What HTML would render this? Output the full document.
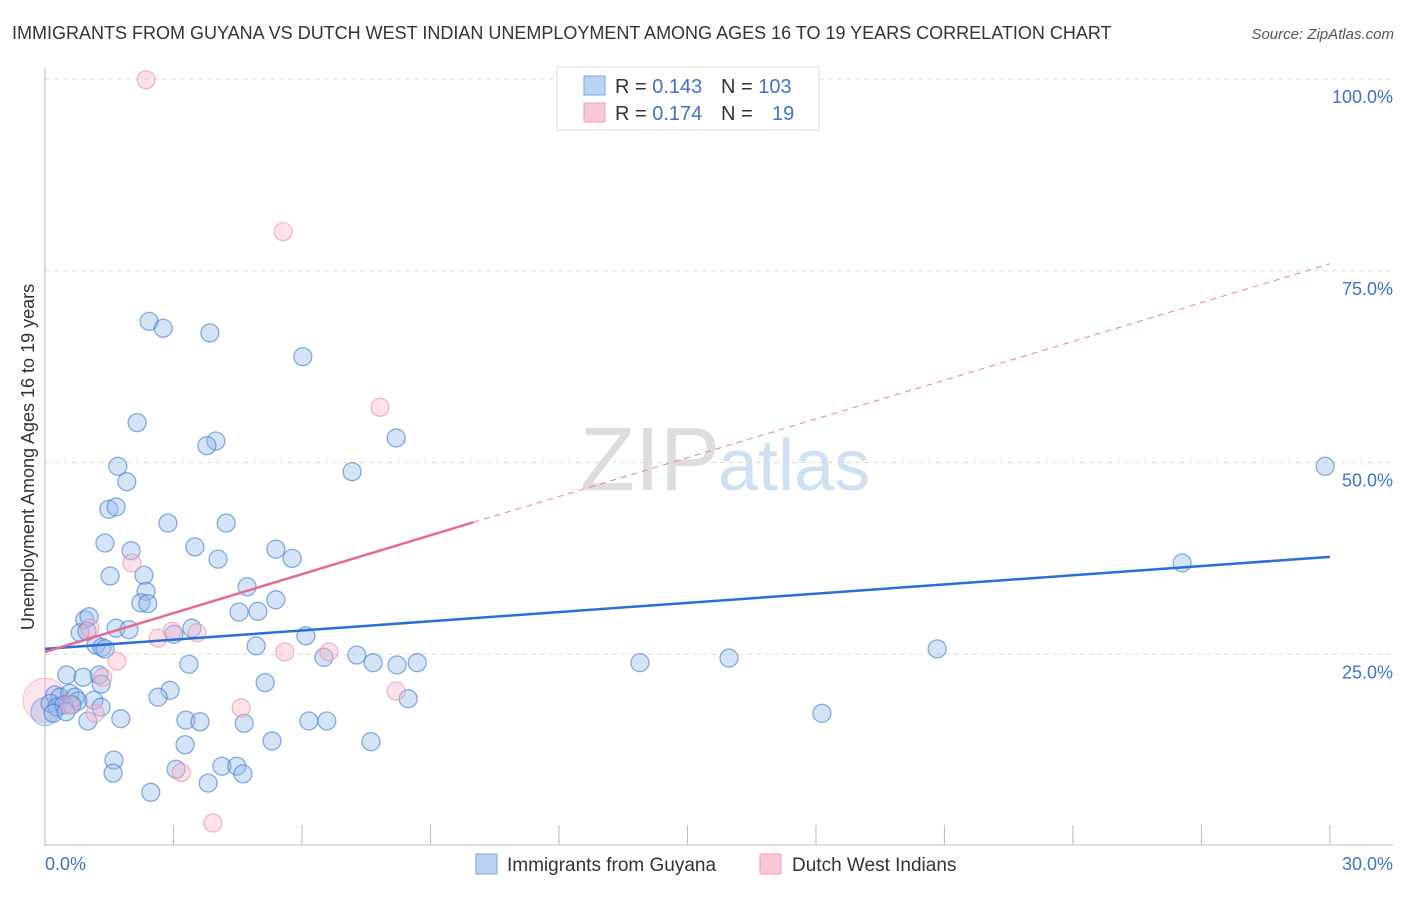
<!DOCTYPE html>
<html><head><meta charset="utf-8"><style>
body{margin:0;background:#fff;font-family:"Liberation Sans",sans-serif;}
svg text{font-family:"Liberation Sans",sans-serif;}
</style></head><body>
<svg id="chart" width="1406" height="892">
<text x="12" y="39" font-size="18" fill="#333">IMMIGRANTS FROM GUYANA VS DUTCH WEST INDIAN UNEMPLOYMENT AMONG AGES 16 TO 19 YEARS CORRELATION CHART</text>
<text x="1394" y="39" font-size="15" fill="#555" font-style="italic" text-anchor="end">Source: ZipAtlas.com</text>
<text x="720" y="490" font-size="90" fill="#ddd" text-anchor="end" font-family="Liberation Serif">ZIP</text>
<text x="718" y="490" font-size="72" fill="#cfe0f5">atlas</text>
<g id="grid"></g><g id="axes"></g><g id="marks"></g>
<text transform="translate(34,457) rotate(-90)" font-size="18" fill="#333" text-anchor="middle">Unemployment Among Ages 16 to 19 years</text>
<g>
<rect x="557" y="67" width="262" height="63" fill="#fff" stroke="#ddd"/>
<rect x="584" y="76" width="21" height="19" fill="#b9d3f5" stroke="#7aa6e6"/>
<rect x="584" y="103" width="21" height="19" fill="#f8c8d6" stroke="#eea0b8"/>
<text x="615" y="93" font-size="20" fill="#333">R = <tspan fill="#3c73cc">0.143</tspan></text>
<text x="721" y="93" font-size="20" fill="#333">N = <tspan fill="#3c73cc">103</tspan></text>
<text x="615" y="120" font-size="20" fill="#333">R = <tspan fill="#3c73cc">0.174</tspan></text>
<text x="721" y="120" font-size="20" fill="#333">N = <tspan fill="#3c73cc" x="772">19</tspan></text>
</g>
<g>
<rect x="476" y="854" width="21" height="20" fill="#b9d3f5" stroke="#7aa6e6"/>
<text x="507" y="871" font-size="19" fill="#333">Immigrants from Guyana</text>
<rect x="760" y="854" width="21" height="20" fill="#f8c8d6" stroke="#eea0b8"/>
<text x="792" y="871" font-size="19" fill="#333">Dutch West Indians</text>
</g>
</svg>
<script>
const yTicks=[25,50,75,100];
const yTickLabels=["25.0%","50.0%","75.0%","100.0%"];
const xTickLabels=["0.0%","30.0%"];
const blueX=[2.43,2.76,3.85,6.02,2.15,3.99,3.78,1.70,7.17,1.91,8.20,1.49,1.66,2.87,4.23,1.40,2.01,3.50,4.04,5.39,5.77,1.52,2.31,4.72,2.36,2.24,2.40,5.39,4.53,4.97,0.93,1.03,0.82,0.98,1.66,1.96,3.43,3.01,6.09,4.93,1.19,1.33,1.40,6.51,7.28,7.66,8.22,8.69,3.36,13.89,15.97,20.83,0.51,1.26,0.89,1.31,5.14,0.23,0.35,0.58,0.70,0.77,0.12,0.28,0.44,0.63,0.19,0.49,1.14,1.31,2.92,2.64,8.48,1.00,1.77,3.29,3.62,4.65,6.16,6.58,18.14,3.27,5.30,7.61,1.61,1.59,3.06,4.13,4.48,4.62,3.81,2.47,29.89,26.55];
const blueY=[68.4,67.5,66.9,63.8,55.2,52.8,52.2,49.5,48.8,47.5,53.2,43.9,44.2,42.1,42.1,39.5,38.5,39.0,37.4,38.7,37.5,35.2,35.3,33.8,33.2,31.7,31.6,32.1,30.5,30.6,29.5,29.9,27.8,28.0,28.4,28.2,28.4,27.6,27.4,26.1,26.2,25.9,25.7,24.6,24.9,23.9,23.6,23.9,23.7,23.9,24.5,25.7,22.3,22.3,22.0,21.1,21.3,19.7,19.4,19.9,19.4,18.9,18.6,18.1,18.4,18.4,17.3,17.5,19.0,18.1,20.3,19.4,19.2,16.3,16.6,16.4,16.2,16.0,16.3,16.3,17.3,13.2,13.7,13.6,11.2,9.5,10.0,10.4,10.4,9.4,8.2,7.0,49.5,36.9];
const pinkX=[2.36,5.56,7.82,2.03,1.05,2.97,3.55,2.64,1.68,1.35,5.60,6.63,8.20,4.58,3.18,3.92,0.58,1.17];
const pinkY=[99.9,80.1,57.2,36.9,28.4,28.0,27.8,27.1,24.1,22.0,25.3,25.3,20.2,18.0,9.6,3.0,18.4,17.3];
const blueTrend=[25.7,37.7];
const pinkTrend=[25.3,42.2,75.9];
const NS='http://www.w3.org/2000/svg';
const sx=v=>45+v*42.83, sy=v=>846-v*7.67;
function mk(tag,attrs,parent){const e=document.createElementNS(NS,tag);for(const k in attrs)e.setAttribute(k,attrs[k]);document.getElementById(parent).appendChild(e);return e;}
yTicks.forEach((t,i)=>{
 const g=mk('line',{x1:45,x2:1393,y1:sy(t),y2:sy(t),stroke:'#ddd','stroke-dasharray':'5,4'},'grid');
 
 
 const l=mk('text',{x:1393,y:sy(t)+24,'font-size':18,fill:'#3c73cc','text-anchor':'end'},'axes');l.textContent=yTickLabels[i];
 
 
});
const ax=mk('line',{x1:45,x2:45,y1:68,y2:846,stroke:'#bbb'},'axes');


const bx=mk('line',{x1:45,x2:1393,y1:845,y2:845,stroke:'#bbb'},'axes');


for(let i=0;i<=10;i++){const t=mk('line',{x1:sx(i*3),x2:sx(i*3),y1:825,y2:845,stroke:'#bbb'},'axes');
 
 }
[[0,'start',45],[1,'end',1393]].forEach(([i,a,x])=>{const l=mk('text',{x:x,y:870,'font-size':18,fill:'#3c73cc','text-anchor':a},'axes');l.textContent=xTickLabels[i];
 
 });
const big1=mk('circle',{cx:sx(0),cy:sy(19),r:22,fill:'rgba(248,180,200,0.35)',stroke:'rgba(235,140,170,0.5)'},'marks');


const big2=mk('circle',{cx:sx(0),cy:sy(17.5),r:14,fill:'rgba(150,185,235,0.4)',stroke:'rgba(60,120,210,0.5)'},'marks');


blueX.forEach((v,i)=>{const c=mk('circle',{cx:sx(v),cy:sy(blueY[i]),r:9,fill:'rgba(150,185,235,0.4)',stroke:'rgba(60,120,210,0.6)','stroke-width':1.3},'marks');
 
 });
pinkX.forEach((v,i)=>{const c=mk('circle',{cx:sx(v),cy:sy(pinkY[i]),r:9,fill:'rgba(248,180,200,0.4)',stroke:'rgba(235,140,170,0.6)','stroke-width':1.3},'marks');
 
 });
const bl=mk('line',{x1:sx(0),y1:sy(blueTrend[0]),x2:sx(30),y2:sy(blueTrend[1]),stroke:'#2a6fd6','stroke-width':2.5},'marks');


const pd=mk('line',{x1:sx(10),y1:sy(pinkTrend[1]),x2:sx(30),y2:sy(pinkTrend[2]),stroke:'#e8809f','stroke-width':1,'stroke-dasharray':'6,5'},'marks');


const pl=mk('line',{x1:sx(0),y1:sy(pinkTrend[0]),x2:sx(10),y2:sy(pinkTrend[1]),stroke:'#e36a93','stroke-width':2.5},'marks');


</script>
</body></html>
